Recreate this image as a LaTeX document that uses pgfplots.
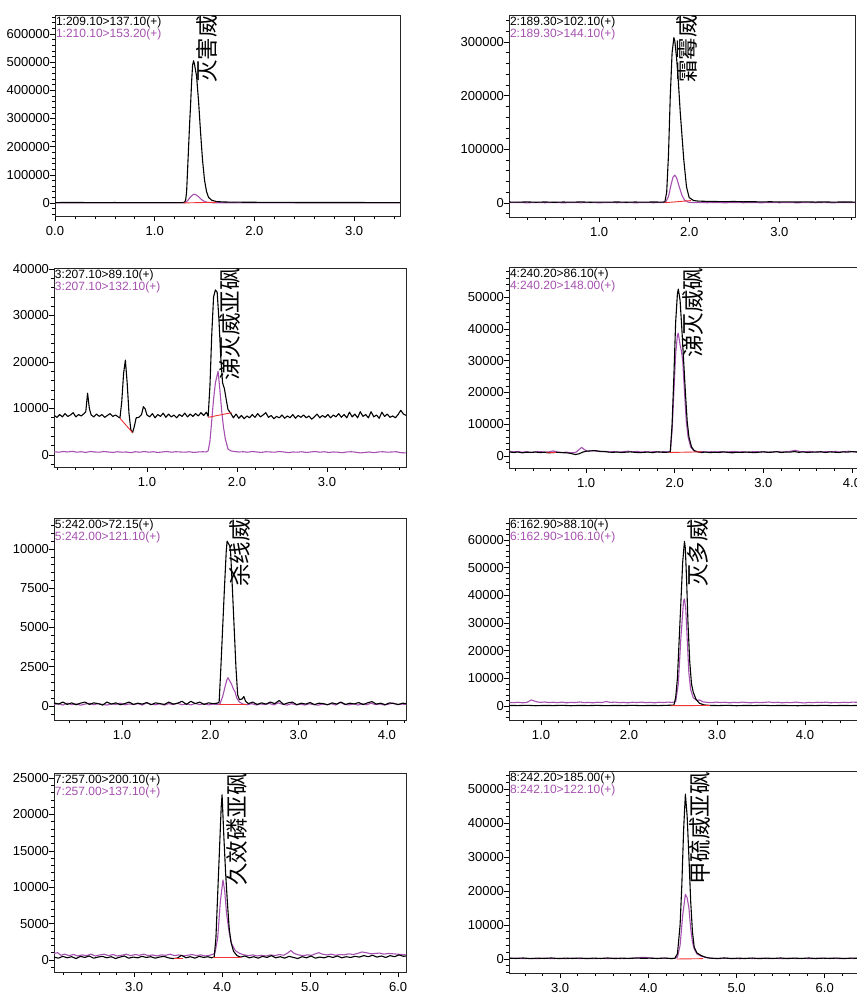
\documentclass[border=0pt]{standalone}
\usepackage{pgfplots}
\pgfplotsset{compat=1.18}
\usepackage{fontspec}
\setmainfont{Liberation Sans}
\newfontfamily\cjk{Noto Sans CJK SC}
\definecolor{trpurple}{RGB}{165,80,175}
\definecolor{trred}{RGB}{240,50,50}
\pgfplotsset{
  chrom/.style={
    scale only axis, anchor=south west, clip mode=individual,
    axis line style={line width=0.8pt, black!85},
    tick style={black, line width=0.6pt},
    tick align=outside, major tick length=5pt, minor tick length=3pt,
    xtick pos=bottom, ytick pos=left,
    scaled y ticks=false,
    /pgf/number format/assume math mode=true,
    yticklabel style={/pgf/number format/fixed, /pgf/number format/1000 sep={}, xshift=3.5pt},
    xticklabel style={/pgf/number format/fixed, /pgf/number format/fixed zerofill, /pgf/number format/precision=1, yshift=-2pt},
    every tick label/.append style={font=\fontsize{13}{13}\selectfont},
    every axis plot/.append style={line width=1.1pt, line join=round, mark=none},
  },
}
\tikzset{
  tr/.style={anchor=north west, inner sep=0pt, align=left, yshift=-1.5pt, xshift=0.8pt, font=\fontsize{12}{11.7}\selectfont},
  cn/.style={rotate=90, anchor=west, inner sep=0pt, font=\cjk\fontsize{22.5}{22.5}\selectfont},
}
\begin{document}
\begin{tikzpicture}[x=1pt,y=1pt]
\useasboundingbox (0,0) rectangle (857,994);
% ---------- Panel 1
\begin{axis}[chrom, at={(55pt,778pt)}, width=345pt, height=201pt,
  xmin=0, xmax=3.46, ymin=-46150, ymax=667400,
  xtick={0,1,2,3}, minor xtick={0.2,0.4,...,3.4},
  ytick={0,100000,...,600000}, minor ytick={-40000,-20000,...,660000}]
\addplot[trpurple] coordinates {(0,500)(0.3,800)(0.6,400)(0.9,700)(1.2,500)(1.30,800)(1.33,8000)(1.36,22000)(1.39,31000)(1.41,30000)(1.44,22000)(1.47,12000)(1.50,5000)(1.54,1500)(1.60,800)(2.0,600)(2.5,800)(3.0,500)(3.46,600)};
\addplot[black] coordinates {(0,1500)(0.2,1800)(0.4,1300)(0.6,1600)(0.8,1200)(1.0,1500)(1.2,1400)(1.28,1500)(1.30,3000)(1.31,10000)(1.32,40000)(1.34,200000)(1.35,280000)(1.36,350000)(1.37,430000)(1.38,490000)(1.39,505000)(1.40,490000)(1.42,450000)(1.44,360000)(1.46,250000)(1.48,150000)(1.50,80000)(1.52,40000)(1.54,20000)(1.57,10000)(1.62,5000)(1.70,3500)(1.8,3000)(2.0,2500)(2.3,2000)(2.6,1800)(3.0,1600)(3.46,1500)};
\addplot[trred, line width=0.9pt] coordinates {(1.29,300)(1.62,2500)};
\node[tr] at (rel axis cs:0,1) {1:209.10>137.10(+)\\\textcolor{trpurple}{1:210.10>153.20(+)}};
\node[cn] at (rel axis cs:0.439,0.662) {灭害威};
\end{axis}
% ---------- Panel 2
\begin{axis}[chrom, at={(509pt,777pt)}, width=346pt, height=202pt,
  xmin=0, xmax=3.84, ymin=-26100, ymax=350300,
  xtick={1,2,3}, minor xtick={0.2,0.4,...,3.8},
  ytick={0,100000,200000,300000}, minor ytick={-20000,0,...,340000}]
\addplot[trpurple] coordinates {(0.0,600)(0.1,900)(0.2,400)(0.3,800)(0.4,500)(0.5,900)(0.6,400)(0.7,800)(0.8,500)(0.9,900)(1.0,400)(1.1,800)(1.2,500)(1.3,900)(1.4,400)(1.5,800)(1.6,500)(1.7,700)(1.74,1500)(1.77,12000)(1.80,35000)(1.82,48000)(1.84,52000)(1.86,47000)(1.89,30000)(1.92,14000)(1.95,5000)(1.99,1500)(2.05,700)(2.1,900)(2.2,500)(2.3,800)(2.4,400)(2.5,900)(2.6,500)(2.7,800)(2.8,400)(2.9,900)(3.0,500)(3.1,800)(3.2,400)(3.3,900)(3.4,500)(3.5,800)(3.6,400)(3.7,900)(3.84,600)};
\addplot[black] coordinates {(0.0,1800)(0.1,1500)(0.2,2000)(0.3,1400)(0.4,1900)(0.5,1300)(0.6,1800)(0.7,1500)(0.8,2000)(0.9,1400)(1.0,1700)(1.1,1500)(1.2,1900)(1.3,1400)(1.4,1800)(1.5,1500)(1.6,1900)(1.7,1600)(1.73,2200)(1.75,20000)(1.77,90000)(1.79,200000)(1.81,280000)(1.83,308000)(1.84,302000)(1.86,270000)(1.88,225000)(1.90,170000)(1.92,125000)(1.94,80000)(1.97,30000)(2.00,10000)(2.05,4500)(2.1,3500)(2.2,3000)(2.3,2700)(2.4,2500)(2.5,2800)(2.6,2200)(2.7,2400)(2.8,2000)(2.9,2300)(3.0,1900)(3.1,2200)(3.2,1800)(3.3,2100)(3.4,1700)(3.5,2000)(3.6,1600)(3.7,1900)(3.84,1700)};
\addplot[trred, line width=0.9pt] coordinates {(1.73,500)(2.02,4500)};
\node[tr] at (rel axis cs:0,1) {2:189.30>102.10(+)\\\textcolor{trpurple}{2:189.30>144.10(+)}};
\node[cn] at (rel axis cs:0.514,0.663) {霜霉威};
\end{axis}
% ---------- Panel 3
\begin{axis}[chrom, at={(54pt,527pt)}, width=352pt, height=199pt,
  xmin=-0.033, xmax=3.878, ymin=-2580, ymax=40215,
  xtick={1,2,3}, minor xtick={0,0.2,...,3.8},
  ytick={0,10000,...,40000}, minor ytick={-2000,0,...,40000}]
\addplot[trpurple] coordinates {(-0.03,700)(0.02,600)(0.07,750)(0.12,650)(0.17,800)(0.22,600)(0.27,700)(0.32,550)(0.37,750)(0.42,650)(0.47,600)(0.52,750)(0.57,650)(0.62,550)(0.67,700)(0.72,600)(0.77,650)(0.82,500)(0.87,700)(0.92,600)(0.97,750)(1.02,600)(1.07,700)(1.12,550)(1.17,650)(1.22,750)(1.27,600)(1.32,700)(1.37,650)(1.42,600)(1.47,700)(1.52,550)(1.57,650)(1.62,700)(1.66,650)(1.68,900)(1.70,3000)(1.72,7500)(1.74,12000)(1.76,15500)(1.79,18000)(1.81,14000)(1.83,9500)(1.85,6000)(1.87,3500)(1.90,1300)(1.93,900)(1.97,750)(2.02,650)(2.07,700)(2.12,600)(2.17,750)(2.22,650)(2.27,550)(2.32,700)(2.37,650)(2.42,600)(2.47,750)(2.52,650)(2.57,500)(2.62,650)(2.67,600)(2.72,700)(2.77,550)(2.82,650)(2.87,750)(2.92,600)(2.97,700)(3.02,550)(3.07,650)(3.12,600)(3.17,500)(3.22,650)(3.27,700)(3.32,600)(3.37,450)(3.42,550)(3.47,650)(3.52,500)(3.57,650)(3.62,700)(3.67,600)(3.72,650)(3.77,700)(3.82,500)(3.88,450)};
\addplot[black] coordinates {(-0.03,8500)(0.00,8100)(0.03,8700)(0.06,8200)(0.09,8900)(0.12,8300)(0.15,8600)(0.18,9100)(0.21,8200)(0.24,8700)(0.27,8400)(0.30,8900)(0.32,9300)(0.34,13300)(0.36,10000)(0.38,8600)(0.41,8200)(0.44,8800)(0.47,8300)(0.50,8700)(0.53,8100)(0.56,8500)(0.59,8900)(0.62,8300)(0.65,8600)(0.68,8200)(0.70,8000)(0.72,11500)(0.74,17500)(0.76,20400)(0.78,15500)(0.80,9000)(0.82,5500)(0.84,4800)(0.86,6200)(0.88,8000)(0.91,8100)(0.94,8700)(0.96,10400)(0.98,9900)(1.00,8600)(1.03,8200)(1.06,8900)(1.09,8000)(1.12,8700)(1.15,8300)(1.18,9000)(1.21,8100)(1.24,8800)(1.27,8200)(1.30,8600)(1.33,8000)(1.36,8700)(1.39,8300)(1.42,9000)(1.45,8200)(1.48,8800)(1.51,8300)(1.54,8900)(1.57,8400)(1.60,9100)(1.63,8500)(1.66,9200)(1.68,8300)(1.70,15000)(1.72,26000)(1.74,34000)(1.76,35500)(1.78,35000)(1.80,29000)(1.82,21000)(1.84,15500)(1.86,14300)(1.88,12000)(1.90,9800)(1.93,9000)(1.96,8000)(1.99,8800)(2.02,7900)(2.05,8500)(2.08,7800)(2.11,8400)(2.14,8000)(2.17,8700)(2.20,8100)(2.23,8900)(2.26,8200)(2.29,8600)(2.32,9100)(2.35,8100)(2.38,8500)(2.41,7800)(2.44,8300)(2.47,8000)(2.50,8600)(2.53,7900)(2.56,8400)(2.59,8000)(2.62,8700)(2.65,7900)(2.68,8500)(2.71,8100)(2.74,8600)(2.77,8000)(2.80,8400)(2.83,7700)(2.86,8200)(2.89,8800)(2.92,8000)(2.95,8500)(2.98,8100)(3.01,8700)(3.04,8000)(3.07,8600)(3.10,8200)(3.13,8900)(3.16,8100)(3.19,8700)(3.22,8000)(3.25,9200)(3.28,8200)(3.31,8800)(3.34,8000)(3.37,9300)(3.40,8300)(3.43,8700)(3.46,8000)(3.49,9300)(3.52,8200)(3.55,8600)(3.58,7900)(3.61,9200)(3.64,8300)(3.67,8800)(3.70,8100)(3.73,8400)(3.76,8000)(3.79,8700)(3.82,9600)(3.85,8800)(3.88,8500)};
\addplot[trred, line width=0.9pt] coordinates {(0.70,7900)(0.84,4800)};
\addplot[trred, line width=0.9pt] coordinates {(1.68,8100)(1.94,9100)};
\node[tr] at (rel axis cs:0,1) {3:207.10>89.10(+)\\\textcolor{trpurple}{3:207.10>132.10(+)}};
\node[cn] at (rel axis cs:0.501,0.432) {涕灭威亚砜};
\end{axis}
% ---------- Panel 4
\begin{axis}[chrom, at={(509pt,526pt)}, width=351pt, height=201pt,
  xmin=0.13, xmax=4.09, ymin=-3774, ymax=59440,
  xtick={1,2,3,4}, minor xtick={0.2,0.4,...,4.0},
  ytick={0,10000,...,50000}, minor ytick={-2000,0,...,58000}]
\addplot[trpurple] coordinates {(0.13,1500)(0.18,1300)(0.23,1400)(0.28,1200)(0.33,1350)(0.38,1150)(0.43,1300)(0.48,1400)(0.53,1200)(0.58,1300)(0.63,1600)(0.68,1250)(0.73,1100)(0.78,1200)(0.83,1000)(0.88,1100)(0.92,2000)(0.95,2700)(0.98,2000)(1.02,1500)(1.07,1700)(1.12,1500)(1.17,1350)(1.22,1450)(1.27,1250)(1.32,1400)(1.37,1200)(1.42,1350)(1.47,1500)(1.52,1300)(1.57,1450)(1.62,1250)(1.67,1350)(1.72,1200)(1.77,1400)(1.82,1250)(1.87,1350)(1.93,1300)(1.95,1500)(1.97,8000)(1.99,20000)(2.01,32000)(2.03,38000)(2.04,38600)(2.06,35000)(2.075,33000)(2.09,30000)(2.11,20000)(2.13,11000)(2.15,6000)(2.18,2800)(2.22,1500)(2.26,1300)(2.31,1400)(2.36,1200)(2.41,1350)(2.46,1250)(2.51,1400)(2.56,1200)(2.61,1300)(2.66,1450)(2.71,1250)(2.76,1350)(2.81,1200)(2.86,1300)(2.91,1400)(2.96,1250)(3.01,1350)(3.06,1200)(3.11,1300)(3.16,1400)(3.21,1250)(3.26,1350)(3.31,1500)(3.36,1800)(3.41,1400)(3.46,1300)(3.51,1450)(3.56,1250)(3.61,1350)(3.66,1200)(3.71,1400)(3.76,1300)(3.81,1450)(3.86,1250)(3.91,1350)(3.96,1500)(4.01,1300)(4.09,1400)};
\addplot[black] coordinates {(0.13,1300)(0.18,1100)(0.23,1250)(0.28,1000)(0.33,1200)(0.38,1100)(0.43,1250)(0.48,1050)(0.53,1200)(0.58,1000)(0.63,1100)(0.68,1150)(0.73,1050)(0.78,1000)(0.83,800)(0.88,450)(0.92,700)(0.96,1200)(1.00,1500)(1.05,1600)(1.10,1700)(1.15,1500)(1.20,1400)(1.25,1250)(1.30,1150)(1.35,1250)(1.40,1100)(1.45,1200)(1.50,1300)(1.55,1150)(1.60,1050)(1.65,1150)(1.70,1250)(1.75,1050)(1.80,1300)(1.85,1200)(1.90,1150)(1.95,1300)(1.97,10000)(1.99,25000)(2.01,42000)(2.03,51000)(2.04,52500)(2.06,49000)(2.08,40000)(2.10,30000)(2.12,20000)(2.14,11000)(2.16,6000)(2.19,2800)(2.22,1700)(2.26,1300)(2.30,1100)(2.35,1250)(2.40,1050)(2.45,1200)(2.50,1100)(2.55,1300)(2.60,1150)(2.65,1000)(2.70,1200)(2.75,1100)(2.80,1250)(2.85,1150)(2.90,1050)(2.95,1200)(3.00,1300)(3.05,1150)(3.10,1200)(3.15,1350)(3.20,1100)(3.25,1250)(3.30,1200)(3.35,1400)(3.40,1150)(3.45,1300)(3.50,1100)(3.55,1250)(3.60,1200)(3.65,1350)(3.70,1100)(3.75,1300)(3.80,1200)(3.85,1100)(3.90,1300)(3.95,1200)(4.00,1400)(4.05,1250)(4.09,1300)};
\addplot[trred, line width=0.9pt] coordinates {(0.55,1000)(0.66,1100)};
\addplot[trred, line width=0.9pt] coordinates {(1.94,1100)(2.30,1300)};
\node[tr] at (rel axis cs:0,1) {4:240.20>86.10(+)\\\textcolor{trpurple}{4:240.20>148.00(+)}};
\node[cn] at (rel axis cs:0.525,0.547) {涕灭威砜};
\end{axis}
% ---------- Panel 5
\begin{axis}[chrom, at={(54pt,274pt)}, width=352pt, height=202pt,
  xmin=0.23, xmax=4.216, ymin=-892, ymax=11975,
  xtick={1,2,3,4}, minor xtick={0.4,0.6,...,4.2},
  ytick={0,2500,...,10000}, minor ytick={-500,0,...,11500}]
\addplot[trpurple] coordinates {(0.23,100)(0.28,150)(0.33,60)(0.38,180)(0.43,90)(0.48,140)(0.53,50)(0.58,120)(0.63,170)(0.68,80)(0.73,150)(0.78,100)(0.83,60)(0.88,140)(0.93,100)(0.98,180)(1.03,70)(1.08,130)(1.13,90)(1.18,150)(1.23,60)(1.28,200)(1.33,110)(1.38,80)(1.43,140)(1.48,60)(1.53,150)(1.58,90)(1.63,170)(1.68,80)(1.73,130)(1.78,70)(1.83,160)(1.88,90)(1.93,140)(1.98,70)(2.03,120)(2.08,90)(2.11,150)(2.14,600)(2.17,1300)(2.19,1700)(2.20,1800)(2.22,1600)(2.24,1400)(2.26,1100)(2.28,900)(2.30,500)(2.33,250)(2.37,120)(2.42,80)(2.47,150)(2.52,60)(2.57,130)(2.62,90)(2.67,160)(2.72,70)(2.77,200)(2.82,100)(2.87,60)(2.92,150)(2.97,80)(3.02,120)(3.07,60)(3.12,140)(3.17,90)(3.22,50)(3.27,120)(3.32,80)(3.37,150)(3.42,60)(3.47,230)(3.52,100)(3.57,70)(3.62,130)(3.67,60)(3.72,140)(3.77,80)(3.82,170)(3.87,90)(3.92,130)(3.97,60)(4.02,120)(4.07,190)(4.12,80)(4.17,120)(4.22,100)};
\addplot[black] coordinates {(0.23,200)(0.28,120)(0.33,250)(0.38,100)(0.43,200)(0.48,80)(0.53,180)(0.58,250)(0.63,100)(0.68,200)(0.73,150)(0.78,60)(0.83,250)(0.88,120)(0.93,200)(0.98,80)(1.03,150)(1.08,250)(1.13,100)(1.18,180)(1.23,120)(1.28,220)(1.33,80)(1.38,200)(1.43,150)(1.48,100)(1.53,250)(1.58,120)(1.63,180)(1.68,300)(1.73,100)(1.78,300)(1.83,150)(1.88,250)(1.93,100)(1.98,200)(2.03,150)(2.08,180)(2.10,250)(2.12,2500)(2.14,5000)(2.16,7500)(2.18,9800)(2.19,10500)(2.20,10400)(2.22,10200)(2.23,9800)(2.25,7500)(2.27,5000)(2.29,2500)(2.31,700)(2.33,400)(2.36,450)(2.38,600)(2.40,300)(2.43,150)(2.48,250)(2.53,100)(2.58,200)(2.63,120)(2.68,250)(2.73,150)(2.78,350)(2.83,100)(2.88,200)(2.93,250)(2.98,80)(3.03,180)(3.08,120)(3.13,220)(3.18,90)(3.23,180)(3.28,150)(3.33,80)(3.38,200)(3.43,120)(3.48,250)(3.53,100)(3.58,180)(3.63,130)(3.68,220)(3.73,90)(3.78,200)(3.83,280)(3.88,120)(3.93,180)(3.98,80)(4.03,200)(4.08,150)(4.13,100)(4.18,180)(4.22,150)};
\addplot[trred, line width=0.9pt] coordinates {(2.10,80)(2.41,80)};
\node[tr] at (rel axis cs:0,1) {5:242.00>72.15(+)\\\textcolor{trpurple}{5:242.00>121.10(+)}};
\node[cn] at (rel axis cs:0.529,0.658) {杀线威};
\end{axis}
% ---------- Panel 6
\begin{axis}[chrom, at={(509pt,274pt)}, width=351pt, height=202pt,
  xmin=0.636, xmax=4.625, ymin=-5060, ymax=67950,
  xtick={1,2,3,4}, minor xtick={0.8,1.0,...,4.6},
  ytick={0,10000,...,60000}, minor ytick={-4000,-2000,...,66000}]
\addplot[trpurple] coordinates {(0.64,1300)(0.69,1200)(0.74,1350)(0.79,1150)(0.84,1300)(0.89,2200)(0.94,1600)(0.99,1300)(1.04,1450)(1.09,1250)(1.14,1350)(1.19,1200)(1.24,1400)(1.29,1150)(1.34,1300)(1.39,1250)(1.44,1450)(1.49,1200)(1.54,1300)(1.59,1150)(1.64,1350)(1.69,1250)(1.74,1600)(1.79,1300)(1.84,1400)(1.89,1200)(1.94,1300)(1.99,1150)(2.04,1350)(2.09,1250)(2.14,1400)(2.19,1200)(2.24,1300)(2.29,1150)(2.34,1350)(2.39,1250)(2.44,1400)(2.49,1300)(2.53,1500)(2.56,8000)(2.59,25000)(2.62,38000)(2.63,38700)(2.645,35000)(2.66,25000)(2.68,12000)(2.70,6000)(2.73,3000)(2.77,2000)(2.80,2200)(2.84,1500)(2.89,1300)(2.94,1200)(2.99,1400)(3.04,1250)(3.09,1350)(3.14,1150)(3.19,1300)(3.24,1200)(3.29,1400)(3.34,1250)(3.39,1150)(3.44,1350)(3.49,1200)(3.54,1300)(3.59,1450)(3.64,1250)(3.69,1350)(3.74,1150)(3.79,1300)(3.84,1200)(3.89,1400)(3.94,1250)(3.99,1100)(4.04,1300)(4.09,1200)(4.14,1350)(4.19,1250)(4.24,1400)(4.29,1150)(4.34,1300)(4.39,1200)(4.44,1350)(4.49,1250)(4.54,1400)(4.625,1300)};
\addplot[black] coordinates {(0.64,200)(0.74,150)(0.84,250)(0.94,100)(1.04,200)(1.14,150)(1.24,250)(1.34,100)(1.44,200)(1.54,150)(1.64,220)(1.74,120)(1.84,200)(1.94,150)(2.04,250)(2.14,120)(2.24,200)(2.34,150)(2.44,250)(2.51,300)(2.53,3000)(2.55,10000)(2.57,24000)(2.59,38000)(2.61,52000)(2.63,59500)(2.64,57000)(2.655,45000)(2.67,30000)(2.69,16000)(2.71,8000)(2.73,5000)(2.76,2500)(2.80,1000)(2.85,400)(2.92,200)(3.02,150)(3.12,250)(3.22,100)(3.32,200)(3.42,150)(3.52,250)(3.62,120)(3.72,200)(3.82,150)(3.92,100)(4.02,200)(4.12,150)(4.22,250)(4.32,120)(4.42,200)(4.52,150)(4.625,200)};
\addplot[trred, line width=0.9pt] coordinates {(2.47,100)(2.92,200)};
\node[tr] at (rel axis cs:0,1) {6:162.90>88.10(+)\\\textcolor{trpurple}{6:162.90>106.10(+)}};
\node[cn] at (rel axis cs:0.537,0.658) {灭多威};
\end{axis}
% ---------- Panel 7
\begin{axis}[chrom, at={(54pt,22pt)}, width=352pt, height=199pt,
  xmin=2.09, xmax=6.09, ymin=-1650, ymax=25690,
  xtick={3,4,5,6}, minor xtick={2.2,2.4,...,6.0},
  ytick={0,5000,...,25000}, minor ytick={-1000,0,...,25000}]
\addplot[trpurple] coordinates {(2.09,900)(2.13,1000)(2.17,650)(2.21,800)(2.26,600)(2.31,750)(2.36,550)(2.41,700)(2.46,600)(2.51,800)(2.56,550)(2.61,700)(2.66,800)(2.71,600)(2.76,750)(2.81,550)(2.86,650)(2.91,800)(2.96,600)(3.01,750)(3.06,650)(3.11,800)(3.16,600)(3.21,700)(3.26,550)(3.31,700)(3.36,650)(3.41,800)(3.46,600)(3.51,700)(3.56,550)(3.61,650)(3.66,750)(3.71,600)(3.76,700)(3.81,550)(3.86,650)(3.90,800)(3.92,1000)(3.95,3000)(3.98,8000)(4.01,11000)(4.03,9500)(4.05,6500)(4.08,3800)(4.11,2200)(4.15,1300)(4.20,900)(4.25,700)(4.30,600)(4.35,700)(4.40,550)(4.45,650)(4.50,550)(4.55,700)(4.60,600)(4.65,750)(4.70,650)(4.75,1000)(4.78,1300)(4.82,900)(4.87,700)(4.92,600)(4.97,700)(5.02,650)(5.07,900)(5.10,1000)(5.14,800)(5.19,700)(5.24,800)(5.29,650)(5.34,750)(5.39,700)(5.44,850)(5.49,750)(5.54,900)(5.59,1100)(5.64,1000)(5.69,850)(5.74,900)(5.79,950)(5.84,800)(5.89,900)(5.94,850)(5.99,800)(6.04,750)(6.09,700)};
\addplot[black] coordinates {(2.09,400)(2.14,250)(2.19,500)(2.24,300)(2.29,450)(2.34,200)(2.39,500)(2.44,350)(2.49,550)(2.54,250)(2.59,400)(2.64,500)(2.69,300)(2.74,450)(2.79,200)(2.84,400)(2.89,550)(2.94,250)(2.99,400)(3.04,300)(3.09,500)(3.14,350)(3.19,450)(3.24,250)(3.29,400)(3.34,500)(3.39,300)(3.44,200)(3.49,250)(3.54,650)(3.59,300)(3.64,450)(3.69,250)(3.74,500)(3.79,350)(3.84,450)(3.88,300)(3.91,400)(3.93,3000)(3.95,9000)(3.97,15000)(3.99,21000)(4.00,22700)(4.02,17000)(4.04,12000)(4.06,8000)(4.08,4500)(4.10,2500)(4.13,1200)(4.17,600)(4.21,400)(4.26,550)(4.31,300)(4.36,450)(4.41,250)(4.46,500)(4.51,350)(4.56,600)(4.61,300)(4.66,450)(4.71,250)(4.76,500)(4.81,350)(4.86,200)(4.91,450)(4.96,300)(5.01,550)(5.06,250)(5.11,400)(5.16,300)(5.21,500)(5.26,350)(5.31,550)(5.36,300)(5.41,450)(5.46,350)(5.51,500)(5.56,400)(5.61,600)(5.66,450)(5.71,650)(5.76,400)(5.81,550)(5.86,350)(5.91,600)(5.96,450)(6.01,700)(6.06,500)(6.09,550)};
\addplot[trred, line width=0.9pt] coordinates {(3.45,150)(3.56,150)};
\addplot[trred, line width=0.9pt] coordinates {(3.90,300)(4.22,300)};
\node[tr] at (rel axis cs:0,1) {7:257.00>200.10(+)\\\textcolor{trpurple}{7:257.00>137.10(+)}};
\node[cn] at (rel axis cs:0.519,0.432) {久效磷亚砜};
\end{axis}
% ---------- Panel 8
\begin{axis}[chrom, at={(509pt,21pt)}, width=351pt, height=202pt,
  xmin=2.42, xmax=6.40, ymin=-4120, ymax=55290,
  xtick={3,4,5,6}, minor xtick={2.6,2.8,...,6.4},
  ytick={0,10000,...,50000}, minor ytick={-4000,-2000,...,54000}]
\addplot[trpurple] coordinates {(2.42,150)(2.50,250)(2.58,100)(2.66,200)(2.74,80)(2.82,250)(2.90,120)(2.98,200)(3.06,80)(3.14,250)(3.22,120)(3.30,220)(3.38,90)(3.46,200)(3.54,120)(3.62,250)(3.70,100)(3.78,200)(3.86,300)(3.94,500)(4.02,300)(4.10,150)(4.18,250)(4.26,150)(4.30,200)(4.33,500)(4.36,4000)(4.39,13000)(4.42,19000)(4.44,18000)(4.46,15000)(4.48,9000)(4.50,5000)(4.52,3000)(4.55,1500)(4.60,800)(4.66,400)(4.72,200)(4.80,100)(4.88,250)(4.96,150)(5.04,80)(5.12,200)(5.20,120)(5.28,250)(5.36,100)(5.44,200)(5.52,80)(5.60,250)(5.68,120)(5.76,200)(5.84,100)(5.92,230)(6.00,150)(6.08,250)(6.16,120)(6.24,200)(6.32,150)(6.40,200)};
\addplot[black] coordinates {(2.42,250)(2.50,150)(2.58,300)(2.66,100)(2.74,250)(2.82,150)(2.90,300)(2.98,120)(3.06,250)(3.14,150)(3.22,280)(3.30,100)(3.38,250)(3.46,150)(3.54,300)(3.62,120)(3.70,250)(3.78,150)(3.86,280)(3.94,200)(4.02,250)(4.10,150)(4.18,280)(4.26,120)(4.30,200)(4.33,1500)(4.36,10000)(4.38,22000)(4.40,38000)(4.42,48500)(4.44,42000)(4.46,30000)(4.48,17000)(4.50,8000)(4.52,3500)(4.55,1800)(4.60,1000)(4.65,500)(4.70,250)(4.78,150)(4.86,300)(4.94,120)(5.02,250)(5.10,150)(5.18,280)(5.26,100)(5.34,250)(5.42,150)(5.50,300)(5.58,120)(5.66,250)(5.74,150)(5.82,300)(5.90,120)(5.98,250)(6.06,150)(6.14,280)(6.22,120)(6.30,250)(6.40,200)};
\addplot[trred, line width=0.9pt] coordinates {(4.32,0)(4.62,100)};
\node[tr] at (rel axis cs:0,1) {8:242.20>185.00(+)\\\textcolor{trpurple}{8:242.10>122.10(+)}};
\node[cn] at (rel axis cs:0.544,0.436) {甲硫威亚砜};
\end{axis}
\end{tikzpicture}
\end{document}
